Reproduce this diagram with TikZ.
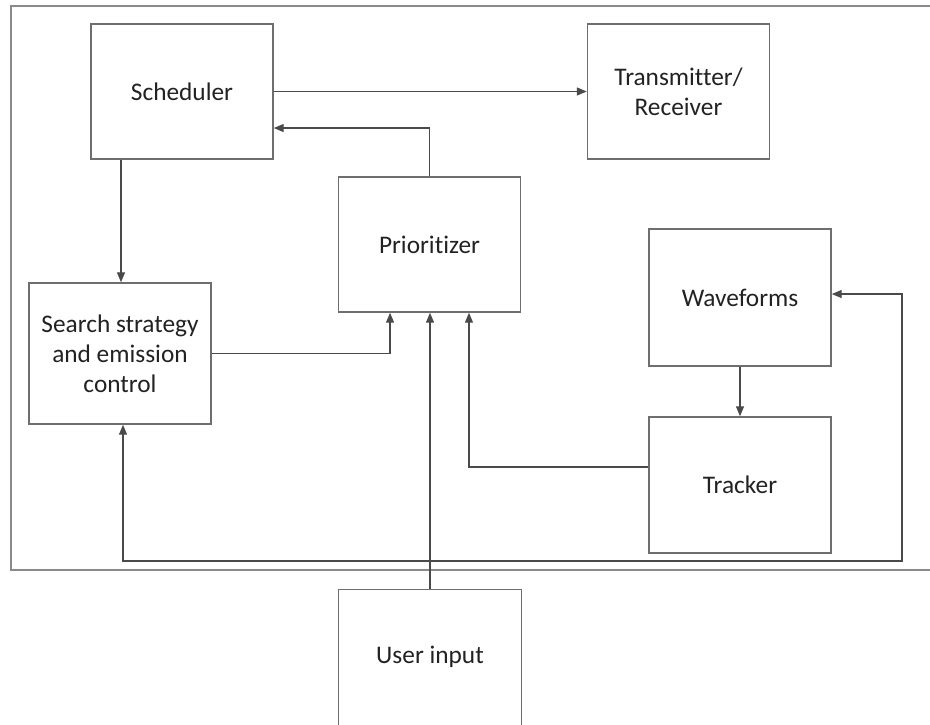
\documentclass[tikz,border=0pt]{standalone}
\usepackage{fontspec}
\setmainfont{Carlito}[Ligatures=NoCommon]
\usetikzlibrary{arrows.meta,calc}
\definecolor{boxline}{HTML}{6E6E6E}
\definecolor{wire}{HTML}{4A4A4A}
\definecolor{frameline}{HTML}{8A8A8A}
\definecolor{label}{HTML}{222222}
\tikzset{
  block/.style={draw=boxline, line width=1.1pt, fill=white, inner sep=0pt,
    minimum width=136.5pt, minimum height=101.25pt, align=center,
    text=label, font=\fontsize{19}{22.5}\selectfont},
  wireline/.style={draw=wire, line width=1pt},
  flow/.style={wireline, -{Triangle[length=7.5pt,width=6pt]}},
  twoway/.style={wireline, {Triangle[length=7.5pt,width=6pt]}-{Triangle[length=7.5pt,width=6pt]}}
}
\begin{document}
\begin{tikzpicture}[x=0.75pt,y=-0.75pt]
  \useasboundingbox (0,0) rectangle (930,724);
  \begin{scope}
    \clip (0,0) rectangle (930,724);
    % enclosing system frame, open to the right
    \draw[frameline, line width=1.4pt] (945,6) -- (11,6) -- (11,570) -- (945,570);

    % blocks
    \node[block] (sched) at (182,91.5) {Scheduler};
    \node[block] (tx) at (678.5,91.5) {Transmitter/\\Receiver};
    \node[block] (prio) at (429.5,244.5) {Prioritizer};
    \node[block, minimum height=105.75pt] (search) at (120,353.5) {Search strategy\\and emission\\control};
    \node[block, minimum height=102.75pt] (wave) at (740,297.5) {Waveforms};
    \node[block, minimum height=102pt] (track) at (740,485) {Tracker};
    % the user-input block runs off the bottom edge
    \node[block, minimum width=137.25pt, minimum height=105pt, text height=0pt,
          anchor=north] (user) at (430,589) {};
    \node[text=label, font=\fontsize{19}{22.5}\selectfont] (userlabel) at (430,657) {User input};

    % loop corner beside the tracker
    \coordinate (loopc) at (902,561);

    % connectors
    \draw[flow] (sched.east) -- (tx.west);
    \draw[flow] (prio.north) |- ([yshift=-27.4pt]sched.east);
    \draw[flow] ([xshift=-45.75pt]sched.south) -- ([xshift=-45.75pt]sched.south |- search.north);
    \draw[flow] (search.east) -| ([xshift=-29.6pt]prio.south);
    \draw[flow] (user.north) -- (user.north |- prio.south);
    \draw[flow] ([yshift=13.5pt]track.west) -| ([xshift=29.6pt]prio.south);
    \draw[flow] (wave.south) -- (track.north);
    \draw[twoway] ([xshift=2.25pt]search.south) |- (loopc) |- ([yshift=2.6pt]wave.east);
  \end{scope}
\end{tikzpicture}
\end{document}
